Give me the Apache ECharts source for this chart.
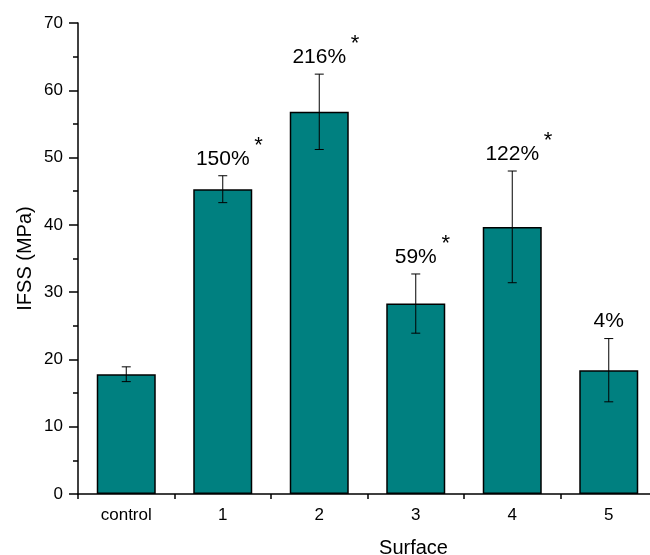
<!DOCTYPE html>
<html>
<head>
<meta charset="utf-8">
<script src="https://cdn.jsdelivr.net/npm/echarts@6/dist/echarts.min.js"></script>
<style>
html,body{margin:0;padding:0;background:#fff;overflow:hidden;}
#chart{width:650px;height:555px;}
</style>
</head>
<body>
<div id="chart"></div>
<script>
var categories = ['control', '1', '2', '3', '4', '5'];
var values = [17.8, 45.3, 56.8, 28.3, 39.7, 18.4];
var errors = [1.1, 2.0, 5.6, 4.4, 8.3, 4.7];
var pctLabels = ['', '150%', '216%', '59%', '122%', '4%'];
var stars = [false, true, true, true, true, false];
var yTicks = [0, 10, 20, 30, 40, 50, 60, 70];

var FONT = '"Liberation Sans", Arial, Helvetica, sans-serif';
var measureCtx = document.createElement('canvas').getContext('2d');
measureCtx.font = '21px ' + FONT;

var errData = categories.map(function (c, i) {
  return [i, values[i], errors[i]];
});

var chart = echarts.init(document.getElementById('chart'), null, {renderer: 'canvas'});
chart.setOption({
  animation: false,
  backgroundColor: '#fff',
  grid: {left: 78, top: 23, right: -7, bottom: 61, containLabel: false, outerBoundsMode: 'none'},
  xAxis: [{
    type: 'category',
    position: 'bottom',
    data: categories,
    name: 'Surface',
    nameLocation: 'middle',
    nameGap: 44,
    nameMoveOverlap: false,
    nameTextStyle: {fontSize: 20, color: '#000', fontFamily: FONT, padding: [0, 0, 0, 92]},
    axisLine: {lineStyle: {color: '#000', width: 1.5}},
    axisTick: {alignWithLabel: true, length: 9, lineStyle: {color: '#000', width: 1.5}},
    axisLabel: {fontSize: 17, color: '#000', fontFamily: FONT, margin: 13},
    splitLine: {show: false}
  }, {
    type: 'category',
    position: 'bottom',
    data: categories,
    axisLine: {show: false},
    axisTick: {show: true, length: 5, lineStyle: {color: '#000', width: 1.5}},
    axisLabel: {show: false},
    splitLine: {show: false}
  }],
  yAxis: {
    type: 'value',
    min: yTicks[0],
    max: yTicks[yTicks.length - 1],
    interval: 10,
    name: 'IFSS (MPa)',
    nameLocation: 'middle',
    nameGap: 43,
    nameMoveOverlap: false,
    nameTextStyle: {fontSize: 20, color: '#000', fontFamily: FONT},
    axisLine: {show: true, lineStyle: {color: '#000', width: 1.5}},
    axisTick: {show: true, length: 9, lineStyle: {color: '#000', width: 1.5}},
    minorTick: {show: true, splitNumber: 2, length: 5, lineStyle: {color: '#000', width: 1.5}},
    axisLabel: {fontSize: 17, color: '#000', fontFamily: FONT, margin: 15},
    splitLine: {show: false}
  },
  series: [{
    type: 'bar',
    data: values,
    barWidth: 59,
    itemStyle: {color: '#008080', borderColor: '#000', borderWidth: 1.5}
  }, {
    type: 'custom',
    data: errData,
    z: 10,
    renderItem: function (params, api) {
      var x = api.value(0), v = api.value(1), e = api.value(2);
      var lbl = pctLabels[params.dataIndex];
      var st = stars[params.dataIndex];
      var top = api.coord([x, v + e]);
      var bot = api.coord([x, v - e]);
      var hw = 4.5;
      var lineStyle = {stroke: '#000', lineWidth: 1};
      var children = [
        {type: 'line', shape: {x1: top[0], y1: top[1], x2: bot[0], y2: bot[1]}, style: lineStyle},
        {type: 'line', shape: {x1: top[0] - hw, y1: top[1], x2: top[0] + hw, y2: top[1]}, style: lineStyle},
        {type: 'line', shape: {x1: bot[0] - hw, y1: bot[1], x2: bot[0] + hw, y2: bot[1]}, style: lineStyle}
      ];
      if (lbl) {
        var ly = top[1] - 17;
        children.push({
          type: 'text', x: top[0], y: ly,
          style: {text: lbl, fill: '#000', font: '21px ' + FONT, textAlign: 'center', textVerticalAlign: 'middle'}
        });
        if (st) {
          var w = measureCtx.measureText(lbl).width;
          children.push({
            type: 'text', x: top[0] + w / 2 + 9, y: ly - 13,
            style: {text: '*', fill: '#000', font: '22px ' + FONT, textAlign: 'center', textVerticalAlign: 'middle'}
          });
        }
      }
      return {type: 'group', children: children};
    }
  }]
});
</script>
</body>
</html>
